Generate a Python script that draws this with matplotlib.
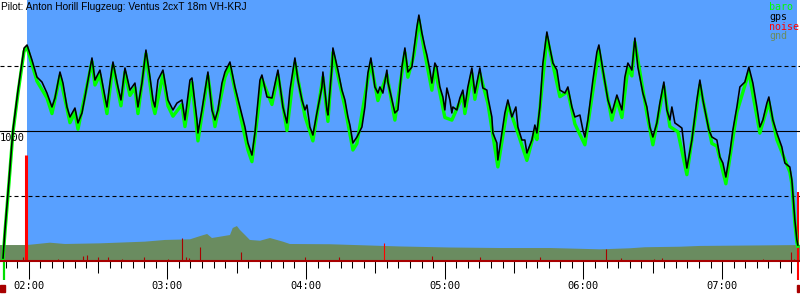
import matplotlib.pyplot as plt
from matplotlib.patches import Rectangle
from matplotlib.ticker import FixedLocator, FuncFormatter

title = 'Pilot: Anton Horill Flugzeug: Ventus 2cxT 18m VH-KRJ'

# Zeit in Minuten nach 02:00, Hoehe in m
gps_t = [-11.1, -10.25, -8.5, -6.8, -4.6, -2.9, -2.0, -0.7,
         1.43, 3.59, 5.75, 7.92, 10.08, 11.38, 13.54, 14.84, 16.57, 17.87, 20.03, 21.33,
         23.06, 24.36, 27.39, 28.68, 30.85, 33.01, 33.87, 35.17, 36.47, 38.63, 39.93,
         41.66, 43.82, 45.99, 47.28, 49.01, 50.74, 52.47, 53.77, 54.63,
         55.93, 58.1, 60.26, 62.42, 64.15, 66.32, 67.61, 69.78, 70.64, 72.8, 73.24,
         74.97, 77.56, 79.29, 80.59, 81.89, 83.62, 84.92, 87.08, 89.24, 91.41, 93.57,
         94.87, 96.6, 97.9, 100.06, 100.92, 103.09, 105.25, 107.84, 110.0,
         111.73, 113.03, 115.19, 116.49, 118.22, 119.52, 120.38, 121.68, 122.97, 124.7,
         126.87, 127.3, 129.03, 129.47, 131.2, 131.63, 133.79, 135.52, 136.82, 138.12,
         138.98, 140.28, 142.01, 144.17, 145.47, 146.77, 148.06, 149.79, 151.09, 151.96,
         153.25, 154.98, 155.42, 157.15, 158.44, 159.74, 161.47, 162.77, 164.06, 165.79,
         166.66,
         167.96, 168.82, 170.12, 171.42, 172.28, 173.58, 174.44, 175.74, 176.61, 177.9,
         179.2, 180.06, 180.93, 182.23, 183.09, 183.52, 185.25, 186.55, 187.85, 188.71,
         190.01, 191.74, 193.04, 195.2, 196.5, 198.23, 198.66, 200.39, 200.83, 202.56,
         202.99, 204.72, 206.02, 207.32, 209.05, 210.78, 211.65, 213.38, 214.68, 215.54,
         217.71, 219.0, 219.87, 221.17, 222.47, 224.2, 225.5, 226.8, 228.53, 229.83,
         231.99, 233.29, 235.02, 236.32, 238.48, 239.78, 240.64, 241.94, 244.1, 245.83,
         246.7, 248.43, 250.59, 252.32, 254.48, 256.65, 257.94, 259.24, 260.97, 262.27,
         263.56, 265.73, 267.46, 268.76, 270.05, 271.78, 273.08, 274.81, 276.11, 277.41,
         278.27, 279.57, 280.87, 282.6, 283.9, 284.76, 286.93, 289.09, 290.39, 291.69,
         293.42, 294.28, 295.58, 297.74, 299.04, 300.34, 301.63, 303.36, 304.66, 306.39,
         307.69, 309.85, 311.58, 313.31, 315.04, 316.34, 317.64, 319.37, 320.23, 321.96,
         323.69, 325.85, 327.15, 329.31, 330.18, 331.47, 332.34, 332.77]
gps_alt = [19, 235, 619, 1004, 1311, 1519, 1634, 1658,
           1542, 1411, 1373, 1288, 1181, 1250, 1450, 1365, 1181, 1104, 1173, 1058,
           1135, 1258, 1558, 1388, 1465, 1258, 1181, 1365, 1527, 1335, 1235,
           1481, 1311, 1365, 1181, 1365, 1619, 1411, 1235, 1181,
           1388, 1465, 1235, 1158, 1211, 1235, 1081, 1388, 1404, 1081, 981,
           1158, 1450, 1158, 1081, 1158, 1365, 1450, 1527, 1335, 1181, 1027,
           904, 811, 981, 1388, 1427, 1258, 1250, 1465, 1181,
           1058, 1311, 1558, 1388, 1235, 1158, 1196, 1027, 965, 1135,
           1335, 1450, 1158, 1119, 1488, 1635, 1465, 1311, 1235, 1104,
           1042, 904, 950, 1027, 1181, 1442, 1558, 1335, 1288, 1335,
           1288, 1465, 1373, 1235, 1135, 1158, 1488, 1635, 1450, 1488,
           1619,
           1796, 1888, 1750, 1642, 1581, 1465, 1365, 1519, 1488, 1335,
           1258, 1158, 1327, 1235, 1135, 1181, 1158, 1250, 1311, 1181,
           1335, 1481, 1288, 1481, 1327, 1311, 1258, 1104, 981, 904,
           773, 981, 1135, 1235, 1104, 1181, 1027, 927, 927, 827,
           927, 1042, 981, 1181, 1519, 1758, 1634, 1519, 1465, 1311,
           1288, 1335, 1181, 1104, 1119, 1004, 950, 1081, 1388, 1604,
           1658, 1465, 1235, 1135, 1273, 1158, 1411, 1519, 1465, 1711,
           1488, 1288, 1181, 1027, 950, 1058, 1211, 1373, 1158, 1081,
           1181, 1058, 1042, 1019, 827, 711, 927, 1235, 1388, 1235,
           1081, 1004, 950, 927, 796, 750, 642, 827, 1004, 1181,
           1335, 1373, 1488, 1365, 1181, 1027, 1081, 1211, 1258, 1081,
           981, 873, 750, 719, 619, 312, 158, 119]

baro_t = [-11.1, -10.25, -8.5, -6.8, -4.6, -2.9, -2.0, -0.7, 1.43, 3.59,
          7.92, 10.08, 13.54, 17.87, 20.03, 21.33, 27.39, 28.68, 30.85, 33.87,
          36.47, 39.93, 41.66, 43.82, 45.99, 47.28, 50.74, 53.77, 54.63, 58.1,
          60.26, 62.42, 66.32, 67.61, 70.64, 73.24, 77.56, 80.59, 84.92, 87.08,
          91.41, 94.87, 96.6, 100.92, 105.25, 107.84, 111.73, 115.19, 119.52, 122.97,
          127.3, 129.47, 131.63, 136.82, 140.28, 142.01, 146.77, 148.06, 151.09, 154.98,
          158.44, 162.77, 164.06, 166.66, 168.82, 171.42, 174.44, 175.74, 180.06, 183.09,
          187.85, 188.71, 191.74, 193.04, 195.2, 198.66, 202.99, 207.32, 211.65, 215.54,
          219.0, 219.87, 224.2, 229.83, 233.29, 236.32, 240.64, 246.7, 252.32, 254.48,
          256.65, 259.24, 260.97, 262.27, 267.46, 270.05, 274.81, 277.41, 280.87, 284.76,
          290.39, 295.58, 297.74, 301.63, 306.39, 311.58, 316.34, 320.23, 323.69, 329.31,
          330.18, 331.47, 332.34, 332.77]
baro_alt = [10, 220, 600, 985, 1290, 1500, 1610, 1640, 1510, 1380,
            1250, 1130, 1420, 1060, 1140, 1010, 1530, 1350, 1430, 1130,
            1500, 1190, 1450, 1270, 1330, 1130, 1590, 1190, 1130, 1430,
            1190, 1110, 1200, 1030, 1370, 920, 1420, 1030, 1410, 1495,
            1130, 850, 760, 1395, 1200, 1430, 1000, 1520, 1110, 920,
            1410, 1070, 1600, 1180, 850, 900, 1400, 1520, 1230, 1430,
            1080, 1600, 1410, 1580, 1850, 1590, 1310, 1480, 1100, 1080,
            1270, 1130, 1440, 1240, 1440, 1210, 720, 1200, 980, 770,
            1000, 930, 1720, 1260, 1300, 1050, 890, 1620, 1080, 1240,
            1100, 1480, 1420, 1680, 1130, 890, 1340, 1030, 990, 660,
            1350, 900, 880, 590, 1140, 1450, 980, 1220, 930, 680,
            590, 290, 140, 110]

gnd_t = [-12.4, -0.7, 9.2, 15.7, 30.8, 50.3, 59.0, 69.8, 74.2, 77.2,
         79.3, 87.1, 88.3, 90.1, 91.4, 93.6, 95.7, 100.1, 104.4, 110.0,
         113.0, 130.4, 160.6, 182.2, 203.9, 225.5, 247.2, 260.1, 266.6, 281.7,
         290.4, 316.3, 333.7]
gnd_alt = [119, 119, 137, 127, 132, 145, 158, 163, 188, 204,
           173, 196, 250, 265, 235, 196, 158, 152, 173, 145,
           127, 125, 108, 100, 96, 96, 86, 94, 102, 106,
           112, 116, 119]

noise_t = [-2.5, 12.7, 23.5, 25.2, 30.0, 34.3, 40.4, 49.9, 60.3, 66.3,
           68.1, 69.4, 74.1, 91.8, 119.5, 134.3, 174.4, 195.2, 221.2, 249.7,
           256.2, 270.5, 274.0, 317.7, 329.8, 331.1]
noise_lvl = [29, 12, 37, 42, 27, 27, 12, 27, 12, 173,
             27, 19, 104, 65, 27, 27, 35, 27, 27, 88,
             19, 12, 19, 12, 65, 12]
loud_t = [-1.3, 153.7, 332.8]
loud_lvl = [811, 135, 527]
loud_w = [2.2, 0.8, 1.5]

takeoff_t = -10.7
landing_t = 332.8
release_t = -0.7
end_t = 332.3
t_min, t_max = -12.4, 333.7

blue = '#58a0ff'
gnd_col = '#6a8c60'
dark_red = '#a80000'

fig = plt.figure(figsize=(8, 3), dpi=100)
ax = fig.add_axes([0, 39.5 / 300, 1, 260.5 / 300])
ax.set_xlim(t_min, t_max)
ax.set_ylim(0, 2004)
ax.set_facecolor('white')

ax.axvspan(release_t, end_t, color=blue, zorder=0, lw=0)
ax.fill_between(gnd_t, gnd_alt, 0, color=gnd_col, lw=0, zorder=1)

for h in [500, 1500]:
    ax.axhline(h, color='black', lw=0.8, dashes=(3.6, 2.7), zorder=2)
ax.axhline(1000, color='black', lw=0.8, zorder=2)
ax.text(t_min, 1000 - 20, '1000', family='DejaVu Sans Mono', fontsize=7.5,
        va='top', ha='left', zorder=6)

ax.vlines(noise_t, 0, noise_lvl, color=dark_red, lw=0.8, zorder=3)
ax.vlines(loud_t, 0, loud_lvl, color='#ff0000', lw=loud_w, zorder=3)

ax.plot(baro_t, baro_alt, color='#00ff00', lw=2.4, zorder=4)
ax.plot(gps_t, gps_alt, color='black', lw=1.15, zorder=5)

# Start/Landung unter der Achse
tr = ax.get_xaxis_transform()
ax.vlines([takeoff_t], -0.075, -0.006, color='#00dd00', lw=1.6, transform=tr, clip_on=False)
ax.vlines([landing_t], -0.075, 0, color='#ff0000', lw=1.5, transform=tr, clip_on=False)
ax.add_patch(Rectangle((t_min, -0.121), 2.2, 0.027, color=dark_red, transform=tr, clip_on=False))
ax.add_patch(Rectangle((landing_t - 0.4, -0.121), 0.9, 0.027, color=dark_red, transform=tr, clip_on=False))

for s in ['top', 'left', 'right']:
    ax.spines[s].set_visible(False)
ax.spines['bottom'].set_color(dark_red)
ax.spines['bottom'].set_linewidth(1.5)
ax.spines['bottom'].set_zorder(6)
ax.set_yticks([])

hours = [0, 60, 120, 180, 240, 300]
ax.xaxis.set_major_locator(FixedLocator(hours))
ax.xaxis.set_minor_locator(FixedLocator([m for m in range(-10, 334, 5) if m % 30 != 0]))
ax.xaxis.set_major_formatter(FuncFormatter(lambda v, p: '%02d:%02d' % ((120 + v) // 60, (120 + v) % 60)))
ax.tick_params(axis='x', which='major', length=13, width=0.75, color='black', pad=1.5,
               labelsize=7.5, labelfontfamily='DejaVu Sans Mono')
ax.tick_params(axis='x', which='minor', length=4.8, width=0.75, color='black')

sec = ax.secondary_xaxis('bottom')
sec.set_xticks([30, 90, 150, 210, 270, 330])
sec.set_xticklabels([])
sec.tick_params(length=8.5, width=0.75, color='black')
sec.spines['bottom'].set_visible(False)

fig.text(0.001, 1 - 1.5 / 300, title, family='Liberation Sans', fontsize=7.3,
         va='top', ha='left')
legend = [('baro', '#00ff00'), ('gps', 'black'), ('noise', '#ff0000'), ('gnd', gnd_col)]
for i, (name, col) in enumerate(legend):
    fig.text(769 / 800, 1 - (10 + i * 9.8) / 300, name, color=col,
             family='DejaVu Sans Mono', fontsize=7.2, va='baseline', ha='left')

fig.savefig('out.png', dpi=100)
